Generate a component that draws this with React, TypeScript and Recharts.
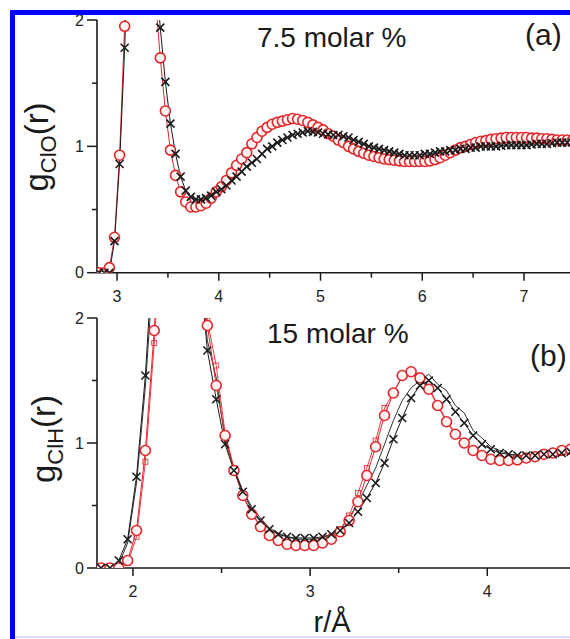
import React from 'react'
import { LineChart, Line, XAxis, YAxis } from 'recharts'

// (a) 7.5 molar %, g_ClO(r)
const topR = [
  2.825, 2.875, 2.925, 2.975, 3.025, 3.075, 3.125, 3.175, 3.225, 3.275,
  3.325, 3.375, 3.425, 3.475, 3.525, 3.575, 3.625, 3.675, 3.725, 3.775,
  3.825, 3.875, 3.925, 3.975, 4.025, 4.075, 4.125, 4.175, 4.225, 4.275,
  4.325, 4.375, 4.425, 4.475, 4.525, 4.575, 4.625, 4.675, 4.725, 4.775,
  4.825, 4.875, 4.925, 4.975, 5.025, 5.075, 5.125, 5.175, 5.225, 5.275,
  5.325, 5.375, 5.425, 5.475, 5.525, 5.575, 5.625, 5.675, 5.725, 5.775,
  5.825, 5.875, 5.925, 5.975, 6.025, 6.075, 6.125, 6.175, 6.225, 6.275,
  6.325, 6.375, 6.425, 6.475, 6.525, 6.575, 6.625, 6.675, 6.725, 6.775,
  6.825, 6.875, 6.925, 6.975, 7.025, 7.075, 7.125, 7.175, 7.225, 7.275,
  7.325, 7.375, 7.425, 7.475,
]
const topRed = [
  0, 0, 0.04, 0.28, 0.93, 1.95, 3.0, 3.8, 4.0, 3.6,
  2.9, 2.2, 1.7, 1.28, 0.97, 0.77, 0.64, 0.56, 0.52, 0.52,
  0.53, 0.55, 0.59, 0.64, 0.68, 0.73, 0.79, 0.85, 0.9, 0.95,
  1.02, 1.07, 1.12, 1.15, 1.175, 1.19, 1.2, 1.21, 1.22, 1.215,
  1.205, 1.19, 1.17, 1.15, 1.13, 1.1, 1.08, 1.05, 1.03, 1.0,
  0.98, 0.96, 0.945, 0.93, 0.92, 0.91, 0.9, 0.895, 0.89, 0.885,
  0.88, 0.88, 0.88, 0.88, 0.88, 0.885, 0.895, 0.91, 0.93, 0.95,
  0.97, 0.99, 1.0, 1.015, 1.03, 1.04, 1.045, 1.055, 1.06, 1.065,
  1.07, 1.07, 1.07, 1.07, 1.07, 1.065, 1.065, 1.06, 1.06, 1.055,
  1.05, 1.05, 1.05, 1.045,
]
const topBlack = [
  0, 0, 0, 0.25, 0.86, 1.78, 2.9, 3.7, 3.9, 3.6,
  3.0, 2.4, 1.94, 1.51, 1.18, 0.94, 0.76, 0.65, 0.6, 0.58,
  0.58, 0.59, 0.61, 0.64, 0.66, 0.69, 0.73, 0.76, 0.8, 0.84,
  0.87, 0.9, 0.94, 0.98, 1.0, 1.03, 1.05, 1.07, 1.09, 1.1,
  1.11, 1.12, 1.115, 1.11, 1.1, 1.095, 1.09, 1.09, 1.08, 1.07,
  1.05, 1.035, 1.02, 1.0, 0.99, 0.98, 0.97, 0.96, 0.95, 0.94,
  0.93, 0.93, 0.93, 0.93, 0.94, 0.94, 0.95, 0.96, 0.96, 0.97,
  0.97, 0.98, 0.98, 0.99, 0.99, 1.0, 1.0, 1.0, 1.0, 1.005,
  1.01, 1.01, 1.01, 1.01, 1.01, 1.015, 1.02, 1.02, 1.02, 1.025,
  1.03, 1.03, 1.03, 1.03,
]

// (b) 15 molar %, g_ClH(r)
const botR = [
  1.82, 1.87, 1.92, 1.97, 2.02, 2.07, 2.12, 2.17, 2.22, 2.27,
  2.32, 2.37, 2.42, 2.47, 2.52, 2.57, 2.62, 2.67, 2.72, 2.77,
  2.82, 2.87, 2.92, 2.97, 3.02, 3.07, 3.12, 3.17, 3.22, 3.27,
  3.32, 3.37, 3.42, 3.47, 3.52, 3.57, 3.62, 3.67, 3.72, 3.77,
  3.82, 3.87, 3.92, 3.97, 4.02, 4.07, 4.12, 4.17, 4.22, 4.27,
  4.32, 4.37, 4.42, 4.47,
]
const botRed = [
  0, 0, 0, 0.06, 0.3, 0.94, 1.9, 3.0, 4.2, 4.5,
  3.9, 2.8, 1.94, 1.46, 1.06, 0.78, 0.58, 0.43, 0.33, 0.26,
  0.22, 0.19, 0.18, 0.18, 0.18, 0.2, 0.23, 0.29, 0.38, 0.53,
  0.74, 0.97, 1.22, 1.4, 1.54, 1.57, 1.52, 1.43, 1.3, 1.17,
  1.07, 1.0, 0.94, 0.9, 0.87, 0.86, 0.86, 0.865, 0.88, 0.89,
  0.91, 0.92, 0.94, 0.95,
]
const botRedSq = [
  0, 0, 0, 0.04, 0.25, 0.85, 1.8, 2.9, 4.0, 4.4,
  3.9, 2.9, 1.98, 1.62, 1.08, 0.8, 0.59, 0.44, 0.34, 0.27,
  0.22, 0.2, 0.19, 0.19, 0.19, 0.21, 0.25, 0.31, 0.42, 0.6,
  0.8, 1.02, 1.28, 1.4, 1.53, 1.58, 1.54, 1.44, 1.31, 1.18,
  1.08, 1.01, 0.95, 0.91, 0.88, 0.87, 0.87, 0.87, 0.88, 0.89,
  0.91, 0.92, 0.94, 0.95,
]
const botBlack = [
  0, 0, 0.06, 0.23, 0.73, 1.54, 2.7, 3.8, 4.4, 4.2,
  3.5, 2.5, 1.74, 1.35, 0.99, 0.78, 0.61, 0.47, 0.38, 0.31,
  0.27, 0.25, 0.24, 0.24, 0.24, 0.25, 0.27, 0.3, 0.36, 0.45,
  0.56, 0.68, 0.84, 1.03, 1.2, 1.36, 1.46, 1.5, 1.44, 1.35,
  1.25, 1.16, 1.06, 0.99, 0.95, 0.92, 0.91, 0.9, 0.9, 0.9,
  0.91, 0.91, 0.92, 0.93,
]
const botBlackThin = [
  0, 0, 0.03, 0.2, 0.68, 1.45, 2.5, 3.6, 4.3, 4.3,
  3.6, 2.6, 1.82, 1.52, 1.02, 0.8, 0.62, 0.49, 0.4, 0.32,
  0.28, 0.25, 0.23, 0.23, 0.23, 0.24, 0.27, 0.31, 0.4, 0.52,
  0.66, 0.8, 0.99, 1.18, 1.34, 1.44, 1.5, 1.55, 1.47, 1.42,
  1.3, 1.24, 1.1, 1.04, 0.97, 0.94, 0.91, 0.9, 0.9, 0.9,
  0.91, 0.91, 0.92, 0.93,
]

const topXTicks = [3, 3.5, 4, 4.5, 5, 5.5, 6, 6.5, 7]
const botXTicks = [2, 2.5, 3, 3.5, 4]
const yTicks = [0, 0.5, 1, 1.5, 2]

const topData = topR.map((r, i) => ({ r, red: topRed[i], black: topBlack[i] }))
const botData = botR.map((r, i) => ({
  r,
  red: botRed[i],
  redSq: botRedSq[i],
  black: botBlack[i],
  blackThin: botBlackThin[i],
}))

const RED = '#e3262c'
const INK = '#1a1a1a'
const FONT = '"Liberation Sans", Arial, sans-serif'

function XTick(props: any) {
  const { x, y, payload } = props
  const major = Number.isInteger(payload.value)
  return (
    <g>
      <line x1={x} x2={x} y1={y} y2={y + (major ? 8 : 5)} stroke={INK} strokeWidth={1.5} />
      {major && (
        <text x={x} y={y + 29} textAnchor="middle" fontSize={16} fill="#222" fontFamily={FONT}>
          {payload.value}
        </text>
      )}
    </g>
  )
}

function YTick(props: any) {
  const { x, y, payload } = props
  const major = Number.isInteger(payload.value)
  return (
    <g>
      <line x1={x} x2={x - (major ? 10 : 5)} y1={y} y2={y} stroke={INK} strokeWidth={1.5} />
      {major && (
        <text x={x - 13} y={y} dy="0.36em" textAnchor="end" fontSize={16} fill="#222" fontFamily={FONT}>
          {payload.value}
        </text>
      )}
    </g>
  )
}

function CircleDot(props: any) {
  const { cx, cy, value, index } = props
  if (cx == null || cy == null || value > 2.1) return <g key={'c' + index} />
  return <circle key={'c' + index} cx={cx} cy={cy} r={5} stroke={RED} strokeWidth={1.6} fill="#fff4f2" />
}

function CrossDot(props: any) {
  const { cx, cy, value, index } = props
  if (cx == null || cy == null || value > 2.1) return <g key={'x' + index} />
  const s = 4
  return (
    <path
      key={'x' + index}
      d={`M${cx - s},${cy - s}L${cx + s},${cy + s}M${cx - s},${cy + s}L${cx + s},${cy - s}`}
      stroke={INK}
      strokeWidth={1.6}
      fill="none"
    />
  )
}

function SquareDot(props: any) {
  const { cx, cy, value, index } = props
  if (cx == null || cy == null || value > 2.1) return <g key={'s' + index} />
  return (
    <rect key={'s' + index} x={cx - 2.5} y={cy - 2.5} width={5} height={5} stroke={RED} strokeWidth={0.8} fill="none" />
  )
}

function Panel({ data, domain, ticks, xHeight, children }: any) {
  return (
    <LineChart width={570} height={310} data={data} margin={{ top: 20, right: 0, left: 0, bottom: 0 }}>
      <XAxis
        type="number"
        dataKey="r"
        domain={domain}
        allowDataOverflow
        ticks={ticks}
        interval={0}
        tickSize={0}
        tickMargin={0}
        tick={XTick}
        height={xHeight}
        axisLine={{ stroke: INK, strokeWidth: 1.6 }}
      />
      <YAxis
        type="number"
        domain={[0, 2]}
        allowDataOverflow
        ticks={yTicks}
        interval={0}
        tickSize={0}
        tickMargin={0}
        tick={YTick}
        width={97}
        axisLine={{ stroke: INK, strokeWidth: 1.6 }}
      />
      {children}
    </LineChart>
  )
}

export default function App() {
  return (
    <div
      style={{
        position: 'absolute',
        left: 0,
        top: 0,
        width: 570,
        height: 639,
        overflow: 'hidden',
        background: '#fff',
        fontFamily: FONT,
      }}
    >
      <div style={{ position: 'absolute', left: 0, top: 0 }}>
        <Panel data={topData} domain={[2.803, 7.452]} ticks={topXTicks} xHeight={37.3}>
          <Line type="linear" dataKey="red" stroke={RED} strokeWidth={1} dot={CircleDot} activeDot={false} isAnimationActive={false} />
          <Line type="linear" dataKey="black" stroke={INK} strokeWidth={1} dot={CrossDot} activeDot={false} isAnimationActive={false} />
        </Panel>
      </div>
      <div style={{ position: 'absolute', left: 0, top: 298 }}>
        <Panel data={botData} domain={[1.797, 4.467]} ticks={botXTicks} xHeight={40}>
          <Line type="linear" dataKey="blackThin" stroke={INK} strokeWidth={0.9} dot={false} activeDot={false} isAnimationActive={false} />
          <Line type="linear" dataKey="redSq" stroke={RED} strokeWidth={0.9} dot={SquareDot} activeDot={false} isAnimationActive={false} />
          <Line type="linear" dataKey="red" stroke={RED} strokeWidth={1} dot={CircleDot} activeDot={false} isAnimationActive={false} />
          <Line type="linear" dataKey="black" stroke={INK} strokeWidth={1} dot={CrossDot} activeDot={false} isAnimationActive={false} />
        </Panel>
      </div>
      <svg width={570} height={639} style={{ position: 'absolute', left: 0, top: 0, pointerEvents: 'none' }}>
        <g fontFamily={FONT} fill="#1a1a1a">
          <text x={257} y={47} fontSize={28}>7.5 molar %</text>
          <text x={525} y={45} fontSize={30}>(a)</text>
          <text x={267} y={343} fontSize={28}>15 molar %</text>
          <text x={530} y={366} fontSize={30}>(b)</text>
          <text x={332} y={632} fontSize={29} textAnchor="middle">r/Å</text>
          <text transform="translate(48,147) rotate(-90)" textAnchor="middle" fontSize={33}>
            g<tspan fontSize={22} dy={8}>ClO</tspan><tspan dy={-8}>(r)</tspan>
          </text>
          <text transform="translate(55,439) rotate(-90)" textAnchor="middle" fontSize={33}>
            g<tspan fontSize={22} dy={8}>ClH</tspan><tspan dy={-8}>(r)</tspan>
          </text>
        </g>
        <rect x={10} y={10} width={560} height={5} fill="#0000ff" />
        <rect x={10} y={10} width={5} height={629} fill="#0000ff" />
        <rect x={15} y={636} width={555} height={2} fill="#dcdcff" />
      </svg>
    </div>
  )
}
